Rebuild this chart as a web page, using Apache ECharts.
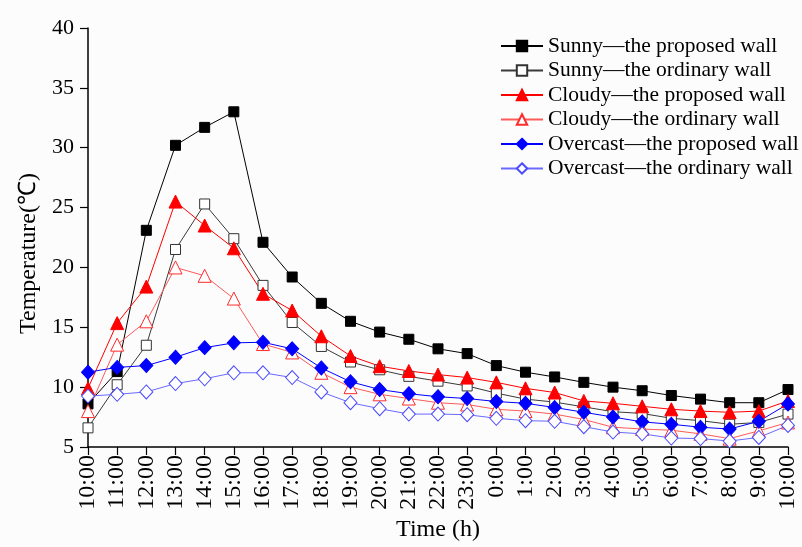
<!DOCTYPE html>
<html>
<head>
<meta charset="utf-8">
<script src="https://cdn.jsdelivr.net/npm/echarts@6/dist/echarts.min.js"></script>
<style>
html,body{margin:0;padding:0;background:#fcfcfc;}
#chart{width:802px;height:547px;}
</style>
</head>
<body>
<div id="chart"></div>
<script>
const categories = ["10:00","11:00","12:00","13:00","14:00","15:00","16:00","17:00","18:00","19:00","20:00","21:00","22:00","23:00","0:00","1:00","2:00","3:00","4:00","5:00","6:00","7:00","8:00","9:00","10:00"];
const yTicks = [5, 40, 5]; // min, max, interval

const seriesNames = [
  "Sunny\u2014the proposed wall",
  "Sunny\u2014the ordinary wall",
  "Cloudy\u2014the proposed wall",
  "Cloudy\u2014the ordinary wall",
  "Overcast\u2014the proposed wall",
  "Overcast\u2014the ordinary wall"
];

const sunnyProposed   = [8.6, 11.3, 23.1, 30.2, 31.7, 33.0, 22.1, 19.2, 17.0, 15.5, 14.6, 14.0, 13.2, 12.8, 11.8, 11.25, 10.85, 10.4, 10.0, 9.7, 9.3, 9.0, 8.7, 8.7, 9.8];
const sunnyOrdinary   = [6.6, 10.2, 13.5, 21.5, 25.3, 22.4, 18.5, 15.4, 13.4, 12.1, 11.45, 10.9, 10.5, 10.1, 9.5, 9.0, 8.75, 8.35, 7.95, 7.8, 7.4, 7.2, 6.9, 7.05, 7.75];
const cloudyProposed  = [9.9, 15.35, 18.4, 25.5, 23.5, 21.6, 17.8, 16.4, 14.25, 12.6, 11.75, 11.35, 11.05, 10.8, 10.4, 9.9, 9.55, 8.85, 8.65, 8.4, 8.15, 8.0, 7.9, 8.0, 8.85];
const cloudyOrdinary  = [8.0, 13.55, 15.5, 20.0, 19.3, 17.4, 13.6, 12.9, 11.2, 10.0, 9.4, 9.05, 8.7, 8.55, 8.15, 8.0, 7.75, 7.3, 6.65, 6.5, 6.4, 6.1, 5.7, 6.35, 7.05];
const overcastProposed= [11.25, 11.65, 11.8, 12.5, 13.3, 13.7, 13.75, 13.2, 11.6, 10.45, 9.8, 9.45, 9.2, 9.05, 8.8, 8.65, 8.3, 7.9, 7.5, 7.1, 6.9, 6.65, 6.5, 7.15, 8.6];
const overcastOrdinary= [9.25, 9.4, 9.6, 10.3, 10.7, 11.2, 11.2, 10.8, 9.6, 8.7, 8.2, 7.75, 7.75, 7.7, 7.4, 7.2, 7.15, 6.7, 6.25, 6.1, 5.75, 5.7, 5.5, 5.8, 6.8];

const FONT = '"Liberation Serif", "Times New Roman", serif';

function mk(name, data, symbol, size, lineColor, fill, border) {
  return {
    name: name,
    type: 'line',
    data: data,
    symbol: symbol,
    symbolSize: size,
    showAllSymbol: true,
    lineStyle: { color: lineColor, width: 1 },
    itemStyle: { color: fill, borderColor: border, borderWidth: 1 },
    emphasis: { disabled: true },
    animation: false
  };
}

const chart = echarts.init(document.getElementById('chart'));
chart.setOption({
  backgroundColor: '#fcfcfc',
  animation: false,
  grid: { left: 88, right: 14, top: 28, bottom: 99 },
  legend: {
    orient: 'vertical',
    left: 500,
    top: 35,
    padding: 0,
    itemWidth: 42,
    itemHeight: 13,
    itemGap: 2.5,
    textStyle: { fontFamily: FONT, fontSize: 21.5, color: '#000' },
    data: seriesNames
  },
  xAxis: {
    type: 'category',
    data: categories,
    boundaryGap: false,
    name: 'Time (h)',
    nameLocation: 'middle',
    nameGap: 71,
    nameTextStyle: { fontFamily: FONT, fontSize: 24, color: '#000' },
    axisLine: { lineStyle: { color: '#000', width: 1.5 } },
    axisTick: { show: true, interval: 0, length: 8, lineStyle: { color: '#000', width: 1.2 } },
    axisLabel: { interval: 0, rotate: 90, margin: 8, fontFamily: FONT, fontSize: 24, color: '#000' },
    splitLine: { show: false }
  },
  yAxis: {
    type: 'value',
    min: yTicks[0],
    max: yTicks[1],
    interval: yTicks[2],
    name: 'Temperature(\u2103)',
    nameLocation: 'middle',
    nameGap: 47,
    nameTextStyle: { fontFamily: FONT, fontSize: 24, color: '#000', padding: [0, 32, 0, 0] },
    axisLine: { show: true, lineStyle: { color: '#000', width: 1.5 } },
    axisTick: { show: true, length: 8, lineStyle: { color: '#000', width: 1.2 } },
    axisLabel: { margin: 14, fontFamily: FONT, fontSize: 22, color: '#000' },
    splitLine: { show: false }
  },
  series: [
    mk(seriesNames[0], sunnyProposed, 'rect', 10, '#000000', '#000000', '#000000'),
    mk(seriesNames[1], sunnyOrdinary, 'rect', 10, '#3a3a3a', '#ffffff', '#333333'),
    mk(seriesNames[2], cloudyProposed, 'triangle', 13, '#ff0000', '#ff0000', '#ff0000'),
    mk(seriesNames[3], cloudyOrdinary, 'triangle', 13, '#ff5a5a', '#ffffff', '#ff2a2a'),
    mk(seriesNames[4], overcastProposed, 'diamond', [13, 14], '#0000ff', '#0000ff', '#0000ff'),
    mk(seriesNames[5], overcastOrdinary, 'diamond', [13, 14], '#6a6aff', '#ffffff', '#4a4aff')
  ]
});
</script>
</body>
</html>
